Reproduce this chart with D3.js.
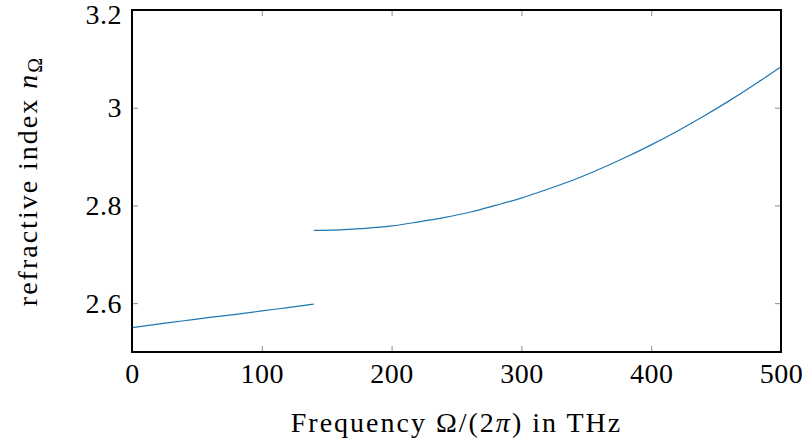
<!DOCTYPE html>
<html>
<head>
<meta charset="utf-8">
<script src="https://cdn.jsdelivr.net/npm/d3@7"></script>
<style>
body { margin: 0; background: #fff; }
text { font-family: "Liberation Serif", "DejaVu Serif", serif; }
</style>
</head>
<body>
<div id="chart"></div>
<script>
// lower branch (0 - 140 THz)
var freq_low = [0, 20, 40, 60, 80, 100, 120, 140];
var n_low = [2.550, 2.557, 2.564, 2.571, 2.577, 2.584, 2.591, 2.598];
// upper branch (140 - 500 THz)
var freq_high = [140, 160, 180, 200, 220, 240, 260, 280, 300, 320, 340, 360, 380, 400, 420, 440, 460, 480, 500];
var n_high = [2.749, 2.750, 2.753, 2.758, 2.766, 2.775, 2.786, 2.800, 2.815, 2.833,
    2.852, 2.874, 2.898, 2.924, 2.952, 2.982, 3.014, 3.048, 3.084];
var x_ticks = [0, 100, 200, 300, 400, 500];
var y_ticks = [2.6, 2.8, 3, 3.2];

var margin = {
        top: 10,
        right: 25,
        bottom: 95,
        left: 132
    },
    width = 806 - margin.left - margin.right,
    height = 447 - margin.top - margin.bottom;

var svg = d3.select('#chart')
    .append('svg')
    .attr('width', 806)
    .attr('height', 447)
var g = svg.append('g')
    .attr('transform', 'translate(' + margin.left + ',' + margin.top + ')')

var x = d3.scaleLinear().domain([0, 500]).range([0, width]);
var y = d3.scaleLinear().domain([2.5, 3.2]).range([height, 0]);

function style_axis(sel, keep_labels) {
    sel.select('.domain').remove();
    sel.selectAll('.tick line').attr('stroke', '#8c8c8c');
    sel.selectAll('.tick text')
        .attr('fill', '#000')
        .attr('font-size', 28)
        .attr('letter-spacing', 0.5)
        .style('font-family', '"Liberation Serif", serif');
    if (!keep_labels) sel.selectAll('.tick text').remove();
}

g.append('g')
    .attr('transform', 'translate(0,' + height + ')')
    .call(d3.axisBottom(x).tickValues(x_ticks).tickSize(-6).tickPadding(11))
    .call(style_axis, true)
g.append('g')
    .call(d3.axisTop(x).tickValues(x_ticks).tickSize(-6))
    .call(style_axis, false)
g.append('g')
    .call(d3.axisLeft(y).tickValues(y_ticks).tickSize(-6).tickPadding(10).tickFormat(d3.format('~g')))
    .call(style_axis, true)
g.append('g')
    .attr('transform', 'translate(' + width + ',0)')
    .call(d3.axisRight(y).tickValues(y_ticks).tickSize(-6))
    .call(style_axis, false)
// keep the top label inside the page
g.selectAll('.tick text').filter(function (d) { return d === 3.2; }).attr('dy', '0.48em')

var line = d3.line()
    .x(function (d) { return x(d[0]); })
    .y(function (d) { return y(d[1]); })
    .curve(d3.curveMonotoneX);

[d3.zip(freq_low, n_low), d3.zip(freq_high, n_high)].forEach(function (seg) {
    g.append('path')
        .datum(seg)
        .attr('d', line)
        .attr('fill', 'none')
        .attr('stroke', '#1f77b4')
        .attr('stroke-width', 1.2)
})

// frame
g.append('rect')
    .attr('width', width)
    .attr('height', height)
    .attr('fill', 'none')
    .attr('stroke', '#000')
    .attr('stroke-width', 2)

// axis labels
var xl = svg.append('text')
    .attr('x', margin.left + width / 2)
    .attr('y', 432)
    .attr('text-anchor', 'middle')
    .attr('font-size', 28)
    .attr('letter-spacing', 2)
xl.append('tspan').text('Frequency Ω/(2')
xl.append('tspan').attr('font-style', 'italic').text('π')
xl.append('tspan').text(') in THz')

var yl = svg.append('text')
    .attr('transform', 'translate(37,' + (margin.top + height / 2) + ') rotate(-90)')
    .attr('text-anchor', 'middle')
    .attr('font-size', 28)
    .attr('letter-spacing', 2)
yl.append('tspan').text('refractive index ')
yl.append('tspan').attr('font-style', 'italic').text('n')
yl.append('tspan').attr('font-size', 20).attr('dy', 5).text('Ω')
</script>
</body>
</html>
